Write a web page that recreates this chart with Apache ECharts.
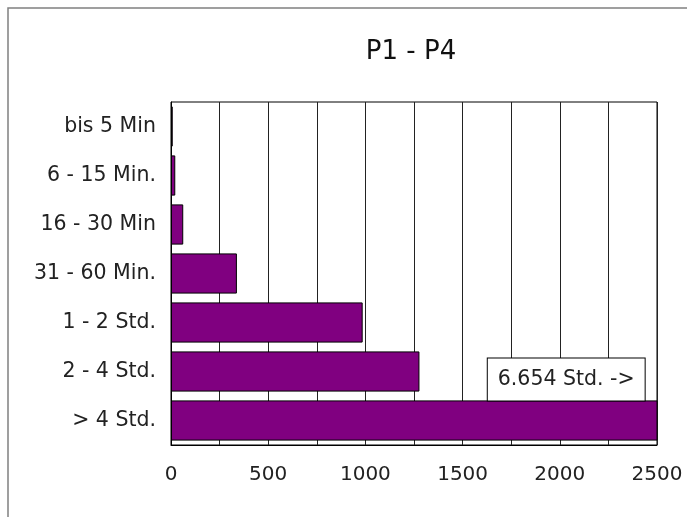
<!DOCTYPE html>
<html>
<head>
<meta charset="utf-8">
<script src="https://cdn.jsdelivr.net/npm/echarts@6/dist/echarts.min.js"></script>
<style>
html,body{margin:0;padding:0;background:#fff;}
#box1{width:687px;height:517px;}
</style>
</head>
<body>
<div id="box1"></div>
<script>
var categories = ['bis 5 Min', '6 - 15 Min.', '16 - 30 Min', '31 - 60 Min.', '1 - 2 Std.', '2 - 4 Std.', '> 4 Std.'];
var values = [9, 22, 63, 339, 986, 1278, 6654];
var xTicks = [0, 500, 1000, 1500, 2000, 2500];
var noteAt = 2033; // wo der Hinweis zum abgeschnittenen Balken steht

var myChart = echarts.init(document.getElementById('box1'));
var font = '"DejaVu Sans", sans-serif';

option = {
    animation: false,
    title: {
        text: 'P1 - P4',
        left: 406,
        top: 34,
        textAlign: 'center',
        textStyle: {fontFamily: font, fontSize: 26, fontWeight: 'normal', color: '#111'}
    },
    graphic: [{
        type: 'rect',
        shape: {x: 8, y: 8, width: 720, height: 560},
        style: {fill: 'none', stroke: '#808080', lineWidth: 1.5},
        silent: true
    }],
    grid: {left: 171, right: 30, top: 102, bottom: 72, show: true, borderColor: '#000', borderWidth: 1},
    xAxis: {
        type: 'value',
        min: 0,
        max: 2500,
        interval: 250,
        axisLine: {show: true, lineStyle: {color: '#000', width: 1}},
        axisTick: {show: false},
        splitLine: {show: true, lineStyle: {color: '#222', width: 1}},
        axisLabel: {
            margin: 20,
            fontFamily: font,
            fontSize: 20,
            color: '#222',
            formatter: function (v) {
                return xTicks.indexOf(v) >= 0 ? String(v) : '';
            }
        }
    },
    yAxis: {
        type: 'category',
        inverse: true,
        data: categories,
        axisLine: {show: true, lineStyle: {color: '#000', width: 1}},
        axisTick: {show: false},
        axisLabel: {margin: 15, fontFamily: font, fontSize: 20.5, color: '#222'}
    },
    series: [{
        type: 'bar',
        data: values,
        barCategoryGap: '18%',
        clip: true,
        itemStyle: {color: '#800080', borderColor: '#000', borderWidth: 1},
        markPoint: {
            symbol: 'rect',
            symbolSize: 0,
            data: [{coord: [noteAt, 6], value: values[6]}],
            label: {
                show: true,
                offset: [0, -41],
                fontFamily: font,
                fontSize: 20.5,
                color: '#222',
                backgroundColor: '#fff',
                borderColor: '#000',
                borderWidth: 1,
                padding: [11, 10, 10, 10],
                formatter: function (p) {
                    return p.value.toLocaleString('de-DE') + ' Std. ->';
                }
            }
        }
    }]
};

myChart.setOption(option);
</script>
</body>
</html>
